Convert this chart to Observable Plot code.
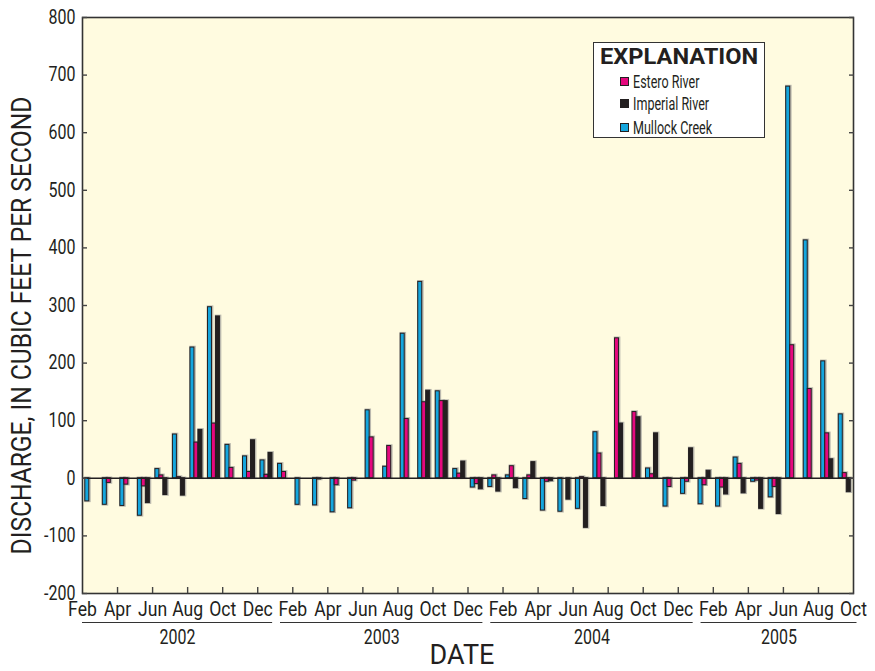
<!DOCTYPE html>
<html><head><meta charset="utf-8">
<script src="https://cdn.jsdelivr.net/npm/d3@7"></script>
<script src="https://cdn.jsdelivr.net/npm/@observablehq/plot@0.6"></script>
<style>
body{margin:0;background:#fff;}
#wrap{position:relative;width:875px;height:671px;}
.legend{position:absolute;left:593px;top:42px;width:172px;height:96px;border:1.5px solid #333;background:#fff;box-sizing:border-box;font-family:Roboto,sans-serif;color:#231f20;}
.legend .title{position:absolute;left:6px;top:1px;font-weight:bold;font-size:22.5px;line-height:24px;height:24px;white-space:nowrap;transform:scaleX(1.05);transform-origin:left;}
.legend .row{position:absolute;left:26px;height:18px;line-height:18px;font-size:19px;white-space:nowrap;}
.legend .sw{display:inline-block;width:7px;height:7px;border:1px solid #231f20;margin-right:4px;vertical-align:middle;position:relative;top:-1px;}
.legend .lbl{display:inline-block;transform:scaleX(0.66);transform-origin:left;}
</style></head><body><div id="wrap"></div>
<script>
// Months: Feb 2002 .. Sep 2005 (44 months)
const startYear = 2002, startMonth = 1; // Feb (0-based)
const mullock = [
  -40, -46, -48, -65, 16, 76, 227, 297, 58, 38, 31,
  25, -46, -47, -59, -52, 118, 20, 251, 341, 151, 16, -16,
  -15, 5, -36, -56, -58, -53, 80, null, null, 17, -49, -27,
  -45, -49, 36, -6, -33, 680, 413, 203, 111
];
const estero = [
  null, -8, -11, -14, 5, 2, 62, 95, 18, 11, 6,
  11, null, -2, -12, -4, 71, 56, 103, 132, 134, 8, -10,
  5, 21, 5, -6, null, 2, 43, 243, 115, 7, -15, -6,
  -12, -16, 25, -4, -15, 231, 155, 78, 9
];
const imperial = [
  null, null, null, -43, -29, -30, 84, 281, null, 66, 44,
  null, null, null, null, null, null, null, null, 152, 134, 29, -19,
  -23, -17, 28, -5, -37, -86, -48, 95, 106, 78, null, 52,
  13, -28, -26, -53, -62, null, null, 33, -24
];
const seriesNames = ["Mullock Creek", "Estero River", "Imperial River"];
const seriesValues = [mullock, estero, imperial];
const colors = ["#14a6de", "#e5087e", "#231f20"];
const xTickLabels = ["Feb","Apr","Jun","Aug","Oct","Dec","Feb","Apr","Jun","Aug","Oct","Dec",
  "Feb","Apr","Jun","Aug","Oct","Dec","Feb","Apr","Jun","Aug","Oct"];
const years = [2002, 2003, 2004, 2005];
const yTicks = [-200,-100,0,100,200,300,400,500,600,700,800];

const nMonths = mullock.length;
const BAR = 0.228, OFF = 0.16;
const rows = [];
seriesValues.forEach((arr, s) => arr.forEach((v, i) => {
  if (v !== null) rows.push({i, s, v, name: seriesNames[s]});
}));
const yearRows = years.map(y => {
  const st = (y - startYear) * 12 - startMonth;
  const x1 = Math.max(0, st + 0.3), x2 = Math.min(nMonths + 0.2, st + 12 - 0.15);
  return {year: y, x1, x2, mid: (x1 + x2) / 2};
});
const labelIdx = xTickLabels.map((d, k) => k * 2);
const innerTicks = labelIdx.filter(d => d > 0 && d < nMonths);

const FONT = 'Roboto,sans-serif';
const INK = "#231f20";

const chart = Plot.plot({
  width: 875, height: 671,
  marginLeft: 82, marginRight: 22, marginTop: 17, marginBottom: 78,
  x: {domain: [0, nMonths], axis: null, label: null},
  y: {domain: [-200, 800], axis: null, label: null},
  style: {fontFamily: FONT, background: "transparent", color: INK},
  marks: [
    Plot.frame({fill: "#fffbe0", stroke: "none"}),
    Plot.rect(rows, {x1: d => d.i + OFF + d.s * BAR, x2: d => d.i + OFF + (d.s + 1) * BAR, y1: 0, y2: "v",
      fill: "none", stroke: "#8c8c8c", strokeOpacity: 0.6, strokeWidth: 2.6, dx: 0.6, dy: 0}),
    Plot.rect(rows, {x1: d => d.i + OFF + d.s * BAR, x2: d => d.i + OFF + (d.s + 1) * BAR, y1: 0, y2: "v",
      fill: d => colors[d.s], stroke: INK, strokeWidth: 1}),
    Plot.ruleY([0], {stroke: INK, strokeWidth: 1.4}),
    Plot.frame({stroke: "#333", strokeWidth: 1.6}),
    Plot.axisY({ticks: yTicks, tickSize: -5, tickPadding: 12, fontSize: 19.5, tickFormat: d => String(d), stroke: "#444", strokeWidth: 1.4}),
    Plot.axisY({anchor: "right", ticks: yTicks, tickSize: -5, tickFormat: () => "", stroke: "#444", strokeWidth: 1.4}),
    Plot.axisX({ticks: innerTicks, tickSize: -6, tickFormat: () => "", stroke: "#444", strokeWidth: 1.4}),
    Plot.axisX({ticks: labelIdx, tickSize: 0, tickPadding: 8, fontSize: 20, tickFormat: d => xTickLabels[d / 2]}),
    Plot.ruleY(yearRows, {y: () => -200, x1: "x1", x2: "x2", dy: 29, stroke: "#333", strokeWidth: 1.2}),
    Plot.text(yearRows, {x: "mid", y: () => -200, dy: 44, text: d => String(d.year), fontSize: 19.5, fill: INK}),
    Plot.text(["DATE"], {frameAnchor: "bottom", dy: 70, dx: -6, text: d => d, fontSize: 27, fill: INK}),
    Plot.text(["DISCHARGE, IN CUBIC FEET PER SECOND"], {frameAnchor: "left", textAnchor: "middle", dx: -60, dy: 20, rotate: -90, text: d => d, fontSize: 27, fill: INK})
  ]
});
// condense text to mimic the narrow typeface of the original
const monthSet = new Set(xTickLabels);
chart.querySelectorAll("text").forEach(t => {
  const s = t.textContent.trim();
  let k = null;
  if (/^-?\d+$/.test(s)) k = 0.82;
  else if (monthSet.has(s)) k = 0.88;
  else if (s.startsWith("DISCHARGE")) k = 0.91;
  if (k !== null) {
    const tr = t.getAttribute("transform") || "";
    t.setAttribute("transform", tr + ` scale(${k},1)`);
  }
});
const wrap = document.getElementById("wrap");
wrap.appendChild(chart);

const legendOrder = [1, 2, 0];
const leg = document.createElement("div");
leg.className = "legend";
let html = '<div class="title">EXPLANATION</div>';
const tops = [30, 52, 76];
legendOrder.forEach((s, k) => {
  html += `<div class="row" style="top:${tops[k]}px"><span class="sw" style="background:${colors[s]}"></span><span class="lbl">${seriesNames[s]}</span></div>`;
});
leg.innerHTML = html;
wrap.appendChild(leg);
</script></body></html>
